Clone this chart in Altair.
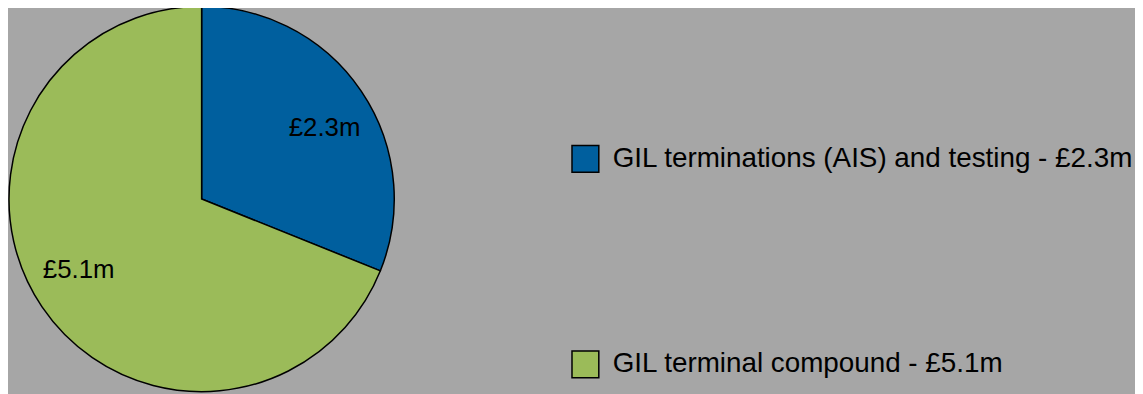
import altair as alt
import pandas as pd

categories = ["GIL terminations (AIS) and testing - £2.3m", "GIL terminal compound - £5.1m"]
values = [2.3, 5.1]
labels = ["£2.3m", "£5.1m"]
colors = ["#005f9e", "#9bbb59"]
label_angles = [60, 240]

df = pd.DataFrame({"category": categories, "value": values, "order": [0, 1]})
lab = pd.DataFrame({"label": labels, "angle": label_angles})

CX, CY, R = 195, 191, 194

pie = alt.Chart(df).mark_arc(stroke="black", strokeWidth=1.5, radius=R).encode(
    theta=alt.Theta("value:Q", stack=True),
    order=alt.Order("order:Q"),
    color=alt.Color(
        "category:N",
        scale=alt.Scale(domain=categories, range=colors),
        sort=categories,
        legend=alt.Legend(
            title=None,
            orient="none",
            legendX=567,
            legendY=136,
            symbolType="square",
            symbolSize=729,
            symbolStrokeColor="black",
            symbolStrokeWidth=1.5,
            symbolOpacity=1,
            labelFont="Liberation Sans",
            labelFontSize=28,
            labelColor="black",
            labelOffset=13,
            rowPadding=174,
            labelLimit=900,
        ),
    ),
    x=alt.value(CX),
    y=alt.value(CY),
)

text = alt.Chart(lab).mark_text(
    radius=143, font="Liberation Sans", fontSize=26, color="black"
).encode(
    theta=alt.Theta("angle:Q", scale=alt.Scale(domain=[0, 360], range=[0, 6.283185307179586])),
    text="label:N",
    x=alt.value(CX),
    y=alt.value(CY),
)

chart = alt.layer(pie, text).resolve_scale(theta="independent").properties(
    width=1135, height=386, autosize=alt.AutoSizeParams(type="none"), padding=0,
    background="#a6a6a6",
).configure_view(stroke=None)

chart.save("out.html", embed_options={"renderer": "svg", "actions": False})
